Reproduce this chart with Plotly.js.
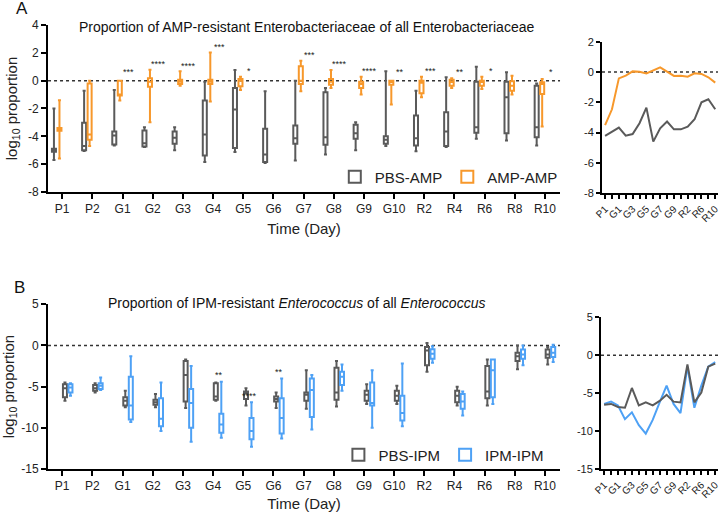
<!DOCTYPE html>
<html>
<head>
<meta charset="utf-8">
<script src="https://cdn.plot.ly/plotly-3.0.1.min.js"></script>
<style>
  html, body { margin: 0; padding: 0; background: #fff; }
  #chart { width: 720px; height: 512px; }
</style>
</head>
<body>
<div id="chart"></div>
<script>
// Sampling days
const categories = ['P1','P2','G1','G2','G3','G4','G5','G6','G7','G8','G9','G10','R2','R4','R6','R8','R10'];

// Panel A: log10 proportion of AMP-resistant Enterobacteriaceae (box statistics per day)
const pbsAmpLow  = [-5.7,-5.06,-4.65,-4.77,-5.0,-5.85,-5.13,-5.92,-5.73,-5.3,-5.0,-4.7,-5.08,-4.77,-4.18,-4.3,-4.65];
const pbsAmpQ1   = [-5.1,-5.0,-4.58,-4.73,-4.53,-5.37,-4.84,-5.85,-4.53,-4.6,-4.18,-4.53,-4.65,-4.7,-3.75,-3.77,-4.06];
const pbsAmpMed  = [-5.0,-4.7,-3.94,-4.49,-4.1,-3.87,-2.08,-5.3,-4.13,-4.06,-3.77,-4.25,-4.13,-3.65,-3.34,-1.19,-3.34];
const pbsAmpQ3   = [-4.9,-3.03,-3.65,-3.58,-3.65,-1.43,-0.52,-3.46,-3.22,-0.84,-3.17,-4.0,-2.5,-2.27,-0.07,-0.07,-0.36];
const pbsAmpHigh = [-2.0,-0.72,-0.67,-3.34,-3.34,-0.07,0.76,-0.76,0.0,-0.52,-2.98,0.67,-0.72,0.24,1.0,0.6,-0.2];

const ampAmpLow  = [-5.6,-4.7,-1.43,-2.98,-0.36,-1.5,-0.67,null,-0.76,-0.52,-1.0,-1.72,-1.19,-0.52,-0.6,-1.0,-3.3];
const ampAmpQ1   = [-3.6,-4.25,-1.07,-0.43,-0.24,-0.24,-0.41,null,-0.24,-0.29,-0.52,-0.29,-0.91,-0.36,-0.36,-0.72,-0.95];
const ampAmpMed  = [-3.5,-3.87,-1.0,-0.07,-0.07,-0.07,0.0,null,0.0,-0.07,-0.24,-0.1,-0.15,-0.1,-0.1,-0.36,-0.24];
const ampAmpQ3   = [-3.4,-0.2,0.0,0.17,0.07,0.07,0.12,null,1.03,0.12,-0.07,0.0,0.0,0.07,0.0,-0.05,-0.12];
const ampAmpHigh = [-1.4,0.0,0.0,0.79,0.67,2.03,0.29,null,1.43,0.76,0.29,0.0,0.29,0.17,0.29,0.36,0.12];
const ampAmpSig  = ['','','***','****','****','***','*','','***','****','****','**','***','**','*','','*'];

// Panel A inset: mean log10 proportion per day
const pbsAmpMean = [-4.22,-3.93,-3.67,-4.2,-4.09,-3.38,-2.35,-4.59,-3.71,-3.27,-3.78,-3.78,-3.6,-3.12,-2.0,-1.8,-2.46];
const ampAmpMean = [-3.5,-2.46,-0.42,-0.24,0.04,0.02,-0.09,0.09,0.31,0.02,-0.26,-0.24,-0.31,-0.09,-0.13,-0.35,-0.7];

// Panel B: log10 proportion of IPM-resistant Enterococcus (box statistics per day)
const pbsIpmLow  = [-6.7,-5.7,-7.5,-7.5,-7.6,-6.7,-7.3,-7.6,-7.7,-7.4,-7.1,-7.1,-3.2,-7.3,-7.3,-2.9,-2.3];
const pbsIpmQ1   = [-6.3,-5.5,-7.3,-7.2,-6.8,-6.6,-6.5,-6.8,-6.7,-6.6,-6.7,-6.7,-2.4,-6.9,-6.4,-1.9,-1.5];
const pbsIpmMed  = [-5.2,-5.2,-6.7,-6.9,-3.6,-6.2,-5.8,-6.5,-6.0,-5.7,-6.0,-6.1,-0.6,-6.1,-5.6,-1.3,-1.1];
const pbsIpmQ3   = [-4.7,-4.8,-6.3,-6.6,-1.9,-4.6,-5.6,-6.2,-5.7,-2.7,-5.5,-5.5,-0.2,-5.5,-2.5,-0.9,-0.5];
const pbsIpmHigh = [-4.5,-4.6,-5.5,-5.9,-1.7,-4.5,-5.2,-5.7,-3.0,-1.9,-4.7,-4.9,0.3,-5.0,-1.7,0.0,-0.2];

const ipmIpmLow  = [-6.1,-5.4,-9.3,-10.4,-11.7,-11.2,-12.3,-11.3,-10.2,-5.5,-10.0,-9.8,-2.1,-8.5,-7.1,-2.4,-2.0];
const ipmIpmQ1   = [-5.7,-5.3,-9.0,-9.8,-10.0,-10.6,-11.4,-10.7,-8.7,-4.8,-7.3,-9.1,-1.6,-7.7,-6.3,-1.6,-1.4];
const ipmIpmMed  = [-5.1,-4.9,-7.3,-8.9,-7.0,-9.6,-10.4,-8.8,-5.4,-3.8,-7.0,-8.2,-1.0,-6.8,-3.0,-1.1,-0.9];
const ipmIpmQ3   = [-4.7,-4.6,-3.8,-6.4,-5.3,-8.3,-8.8,-6.4,-4.0,-3.2,-4.5,-6.1,-0.45,-5.9,-1.7,-0.5,-0.2];
const ipmIpmHigh = [-4.6,-3.9,-1.3,-4.5,-2.5,-4.4,-6.9,-4.0,-3.6,-2.3,-3.0,-2.2,-0.1,-5.6,-1.7,0.0,0.1];
const ipmIpmSig  = ['','','','','','**','****','**','','','','','','','','',''];

// Panel B inset: mean log10 proportion per day
const pbsIpmMean = [-6.5,-6.4,-6.8,-6.9,-4.3,-6.6,-6.2,-6.6,-6.0,-5.2,-6.1,-6.2,-1.2,-6.2,-4.9,-1.5,-1.1];
const ipmIpmMean = [-6.4,-6.1,-6.6,-8.4,-7.5,-9.2,-10.3,-8.5,-6.2,-4.0,-6.4,-7.6,-1.5,-6.9,-4.0,-1.5,-0.9];

// ---------------------------------------------------------------------------
const GREY = '#5a5a5a', ORANGE = '#f7982b', BLUE = '#4ea1f5';
const FONT = 'Liberation Sans, Arial, Helvetica, sans-serif';
const hy = v => String(v).replace('\u2212', '-');

function boxTrace(name, color, low, q1, med, q3, high, xa, ya, legend) {
  const keep = categories.map((c, i) => i).filter(i => med[i] !== null);
  return {
    type: 'box', name: name, legend: legend,
    x: keep.map(i => categories[i]),
    lowerfence: keep.map(i => low[i]), q1: keep.map(i => q1[i]),
    median: keep.map(i => med[i]), q3: keep.map(i => q3[i]),
    upperfence: keep.map(i => high[i]),
    boxpoints: false, whiskerwidth: 0.75,
    line: { color: color, width: 2 }, fillcolor: 'rgba(255,255,255,0)',
    xaxis: xa, yaxis: ya, hoverinfo: 'skip'
  };
}
const idx = categories.map((c, i) => i);
function lineTrace(y, color, xa, ya) {
  return { type: 'scatter', mode: 'lines', x: idx, y: y, line: { color: color, width: 2 },
           xaxis: xa, yaxis: ya, showlegend: false, hoverinfo: 'skip' };
}

const data = [
  boxTrace('PBS-AMP', GREY, pbsAmpLow, pbsAmpQ1, pbsAmpMed, pbsAmpQ3, pbsAmpHigh, 'x', 'y', 'legend'),
  boxTrace('AMP-AMP', ORANGE, ampAmpLow, ampAmpQ1, ampAmpMed, ampAmpQ3, ampAmpHigh, 'x', 'y', 'legend'),
  lineTrace(pbsAmpMean, GREY, 'x2', 'y2'),
  lineTrace(ampAmpMean, ORANGE, 'x2', 'y2'),
  boxTrace('PBS-IPM', GREY, pbsIpmLow, pbsIpmQ1, pbsIpmMed, pbsIpmQ3, pbsIpmHigh, 'x3', 'y3', 'legend2'),
  boxTrace('IPM-IPM', BLUE, ipmIpmLow, ipmIpmQ1, ipmIpmMed, ipmIpmQ3, ipmIpmHigh, 'x3', 'y3', 'legend2'),
  lineTrace(ipmIpmMean, BLUE, 'x4', 'y4'),
  lineTrace(pbsIpmMean, GREY, 'x4', 'y4')
];

const axisBase = {
  showline: true, linecolor: '#000', linewidth: 2, mirror: false,
  ticks: 'outside', ticklen: 5, tickwidth: 2, tickcolor: '#000',
  showgrid: false, zeroline: false, fixedrange: true,
  tickfont: { family: FONT, size: 12, color: '#222' }
};
function yTicks(lo, hi, step) {
  const v = []; for (let t = lo; t <= hi + 1e-9; t += step) v.push(t);
  return { tickmode: 'array', tickvals: v, ticktext: v.map(hy) };
}
const mainX = (anchor) => Object.assign({}, axisBase, {
  domain: [0.0667, 0.7778], anchor: anchor, type: 'category',
  categoryorder: 'array', categoryarray: categories, range: [-0.47, 16.5],
  title: { text: 'Time (Day)', font: { family: FONT, size: 15, color: '#222' }, standoff: 8 }
});
const insetX = (anchor, dom) => Object.assign({}, axisBase, {
  domain: dom, anchor: anchor, range: [-0.45, 16.4], tickangle: -45,
  tickmode: 'array', tickvals: idx, ticktext: categories.map((c, i) => i % 2 === 0 ? c : ''),
  ticklabeloverflow: 'allow',
  ticklen: 4, tickfont: { family: FONT, size: 10, color: '#222' }
});
const yTitle = { text: 'log<sub>10</sub> proportion', font: { family: FONT, size: 15, color: '#222' }, standoff: 7 };

const shapes = [
  ['x', 'y'], ['x2', 'y2'], ['x3', 'y3'], ['x4', 'y4']
].map(([xa, ya]) => ({
  type: 'line', xref: xa + ' domain', yref: ya, x0: 0, x1: 1, y0: 0, y1: 0,
  line: { color: '#333', width: 1.5, dash: 'dot' }, layer: 'below'
}));

const annotations = [];
categories.forEach((c, i) => {
  if (ampAmpSig[i]) annotations.push({
    xref: 'x', yref: 'y', x: c, y: Math.max(ampAmpHigh[i] + 0.55, 0.75), xshift: 6, yshift: -2,
    xanchor: 'center', yanchor: 'middle',
    text: ampAmpSig[i], showarrow: false, font: { family: FONT, size: 9, color: '#222' }
  });
  if (ipmIpmSig[i]) annotations.push({
    xref: 'x3', yref: 'y3', x: c, y: ipmIpmHigh[i] + 1.0, xshift: 6, yshift: -2,
    xanchor: 'center', yanchor: 'middle',
    text: ipmIpmSig[i], showarrow: false, font: { family: FONT, size: 9, color: '#222' }
  });
});
const label = (px, py, text, size) => ({
  xref: 'paper', yref: 'paper', x: px / 720, y: 1 - py / 512, xanchor: 'center', yanchor: 'middle',
  text: text, showarrow: false, font: { family: FONT, size: size, color: '#111' }
});
annotations.push(
  label(306, 27, 'Proportion of AMP-resistant Enterobacteriaceae of all Enterobacteriaceae', 14),
  label(296, 303, 'Proportion of IPM-resistant <i>Enterococcus</i> of all <i>Enterococcus</i>', 14),
  label(22, 8, 'A', 17),
  label(19, 287, 'B', 17)
);

const legendBase = {
  orientation: 'h', xanchor: 'left', yanchor: 'middle', bgcolor: 'rgba(0,0,0,0)',
  font: { family: FONT, size: 15, color: '#222' }, itemwidth: 30, tracegroupgap: 0
};

const layout = {
  width: 720, height: 512, autosize: false,
  margin: { l: 0, r: 0, t: 0, b: 0 },
  paper_bgcolor: '#fff', plot_bgcolor: 'rgba(0,0,0,0)',
  font: { family: FONT, color: '#222' },
  boxmode: 'group', boxgap: 0.27, boxgroupgap: 0.27,
  xaxis: mainX('y'),
  yaxis: Object.assign({}, axisBase, yTicks(-8, 4, 2), { domain: [0.625, 0.9512], anchor: 'x', range: [-8, 4], title: yTitle }),
  xaxis2: insetX('y2', [0.8361, 0.9972]),
  yaxis2: Object.assign({}, axisBase, yTicks(-8, 2, 2), { domain: [0.6225, 0.9186], anchor: 'x2', range: [-8, 2],
    ticklen: 4, tickfont: { family: FONT, size: 11, color: '#222' } }),
  xaxis3: mainX('y3'),
  yaxis3: Object.assign({}, axisBase, yTicks(-15, 5, 5), { domain: [0.084, 0.4057], anchor: 'x3', range: [-15, 5], title: yTitle }),
  xaxis4: insetX('y4', [0.8347, 0.9972]),
  yaxis4: Object.assign({}, axisBase, yTicks(-15, 5, 5), { domain: [0.0834, 0.3803], anchor: 'x4', range: [-15, 5],
    ticklen: 4, tickfont: { family: FONT, size: 11, color: '#222' } }),
  legend: Object.assign({}, legendBase, { x: 0.465, y: 1 - 177 / 512 }),
  legend2: Object.assign({}, legendBase, { x: 0.47, y: 1 - 455 / 512 }),
  shapes: shapes,
  annotations: annotations,
  showlegend: true
};

Plotly.newPlot('chart', data, layout, { staticPlot: true, displayModeBar: false });
</script>
</body>
</html>
